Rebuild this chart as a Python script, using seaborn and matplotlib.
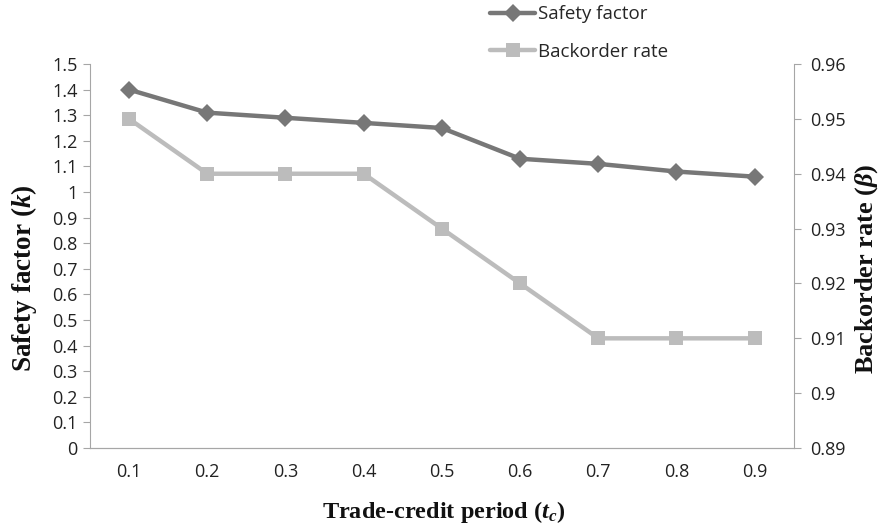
import numpy as np
import pandas as pd
import matplotlib
matplotlib.use("Agg")
import matplotlib.pyplot as plt
import seaborn as sns

periods = ["0.1", "0.2", "0.3", "0.4", "0.5", "0.6", "0.7", "0.8", "0.9"]
safety_factor = [1.40, 1.31, 1.29, 1.27, 1.25, 1.13, 1.11, 1.08, 1.06]
backorder_rate = [0.95, 0.94, 0.94, 0.94, 0.93, 0.92, 0.91, 0.91, 0.91]

sns.set_style("white")
plt.rcParams['font.family'] = ['Open Sans', 'DejaVu Sans']
plt.rcParams['mathtext.fontset'] = 'custom'
plt.rcParams['mathtext.it'] = 'Liberation Serif:italic:bold'
plt.rcParams['mathtext.rm'] = 'Liberation Serif:bold'

df = pd.DataFrame({"pos": np.arange(len(periods)), "period": periods,
                   "k": safety_factor, "beta": backorder_rate})

dark = "#777777"
light = "#bcbcbc"
spine = "#a6a6a6"

fig = plt.figure(figsize=(8.82, 5.29), dpi=100)
ax = fig.add_axes([0.102, 0.153, 0.798, 0.726])
ax2 = ax.twinx()

sns.lineplot(data=df, x="pos", y="k", ax=ax, color=dark, lw=3.2,
             marker="D", markersize=9, markeredgewidth=0, label="Safety factor", legend=False)
sns.lineplot(data=df, x="pos", y="beta", ax=ax2, color=light, lw=3.2,
             marker="s", markersize=10.5, markeredgewidth=0, label="Backorder rate", legend=False)

ax.set_xlim(-0.5, len(periods) - 0.5)
ax.set_ylim(0, 1.5)
ax.set_yticks(np.arange(0, 1.51, 0.1))
ax.set_yticklabels(["0", "0.1", "0.2", "0.3", "0.4", "0.5", "0.6", "0.7", "0.8", "0.9",
                    "1", "1.1", "1.2", "1.3", "1.4", "1.5"])
ax2.set_ylim(0.89, 0.96)
ax2.set_yticks(np.arange(0.89, 0.9601, 0.01))
ax2.set_yticklabels(["0.89", "0.9", "0.91", "0.92", "0.93", "0.94", "0.95", "0.96"])

ax.set_xticks(df["pos"])
ax.set_xticklabels(periods)
ax.set_xticks(np.arange(-0.5, len(periods)), minor=True)
ax.tick_params(axis="x", which="major", length=0, pad=11)
ax.tick_params(axis="x", which="minor", length=6, color=spine, direction="out")
ax.tick_params(axis="y", length=5, color=spine, direction="out", pad=4)
ax2.tick_params(axis="y", length=5, color=spine, direction="out", pad=7)
for a in (ax, ax2):
    a.tick_params(labelsize=13, labelcolor="#222222")
    for s in a.spines.values():
        s.set_visible(False)
    a.spines["bottom"].set_visible(True)
    a.spines["bottom"].set_color(spine)
ax.spines["left"].set_visible(True)
ax.spines["left"].set_color(spine)
ax2.spines["right"].set_visible(True)
ax2.spines["right"].set_color(spine)

ax.set_xlabel(r"Trade-credit period ($t_c$)", family="Liberation Serif", fontweight="bold",
              fontsize=17.5, color="#111111")
ax.set_ylabel(r"Safety factor ($k$)", family="Liberation Serif", fontweight="bold",
              fontsize=19.5, color="#111111")
ax2.set_ylabel(r"Backorder rate ($\beta$)", family="Liberation Serif", fontweight="bold",
               fontsize=19, color="#111111")
ax.xaxis.label.set(va="center", ha="center")
ax.yaxis.label.set(va="center", ha="center")
ax2.yaxis.label.set(va="center", ha="center")
ax.xaxis.set_label_coords(0.503, -0.167)
ax.yaxis.set_label_coords(-0.094, 0.443)
ax2.yaxis.set_label_coords(1.104, 0.468)

h1, l1 = ax.get_legend_handles_labels()
h2, l2 = ax2.get_legend_handles_labels()
fig.legend(h1 + h2, l1 + l2, loc="upper left", bbox_to_anchor=(0.556, 0.99),
           frameon=False, fontsize=13.5, handlelength=2.4, labelspacing=1.05,
           handletextpad=0.15, borderpad=0, borderaxespad=0)

fig.savefig("out.png", dpi=100)
